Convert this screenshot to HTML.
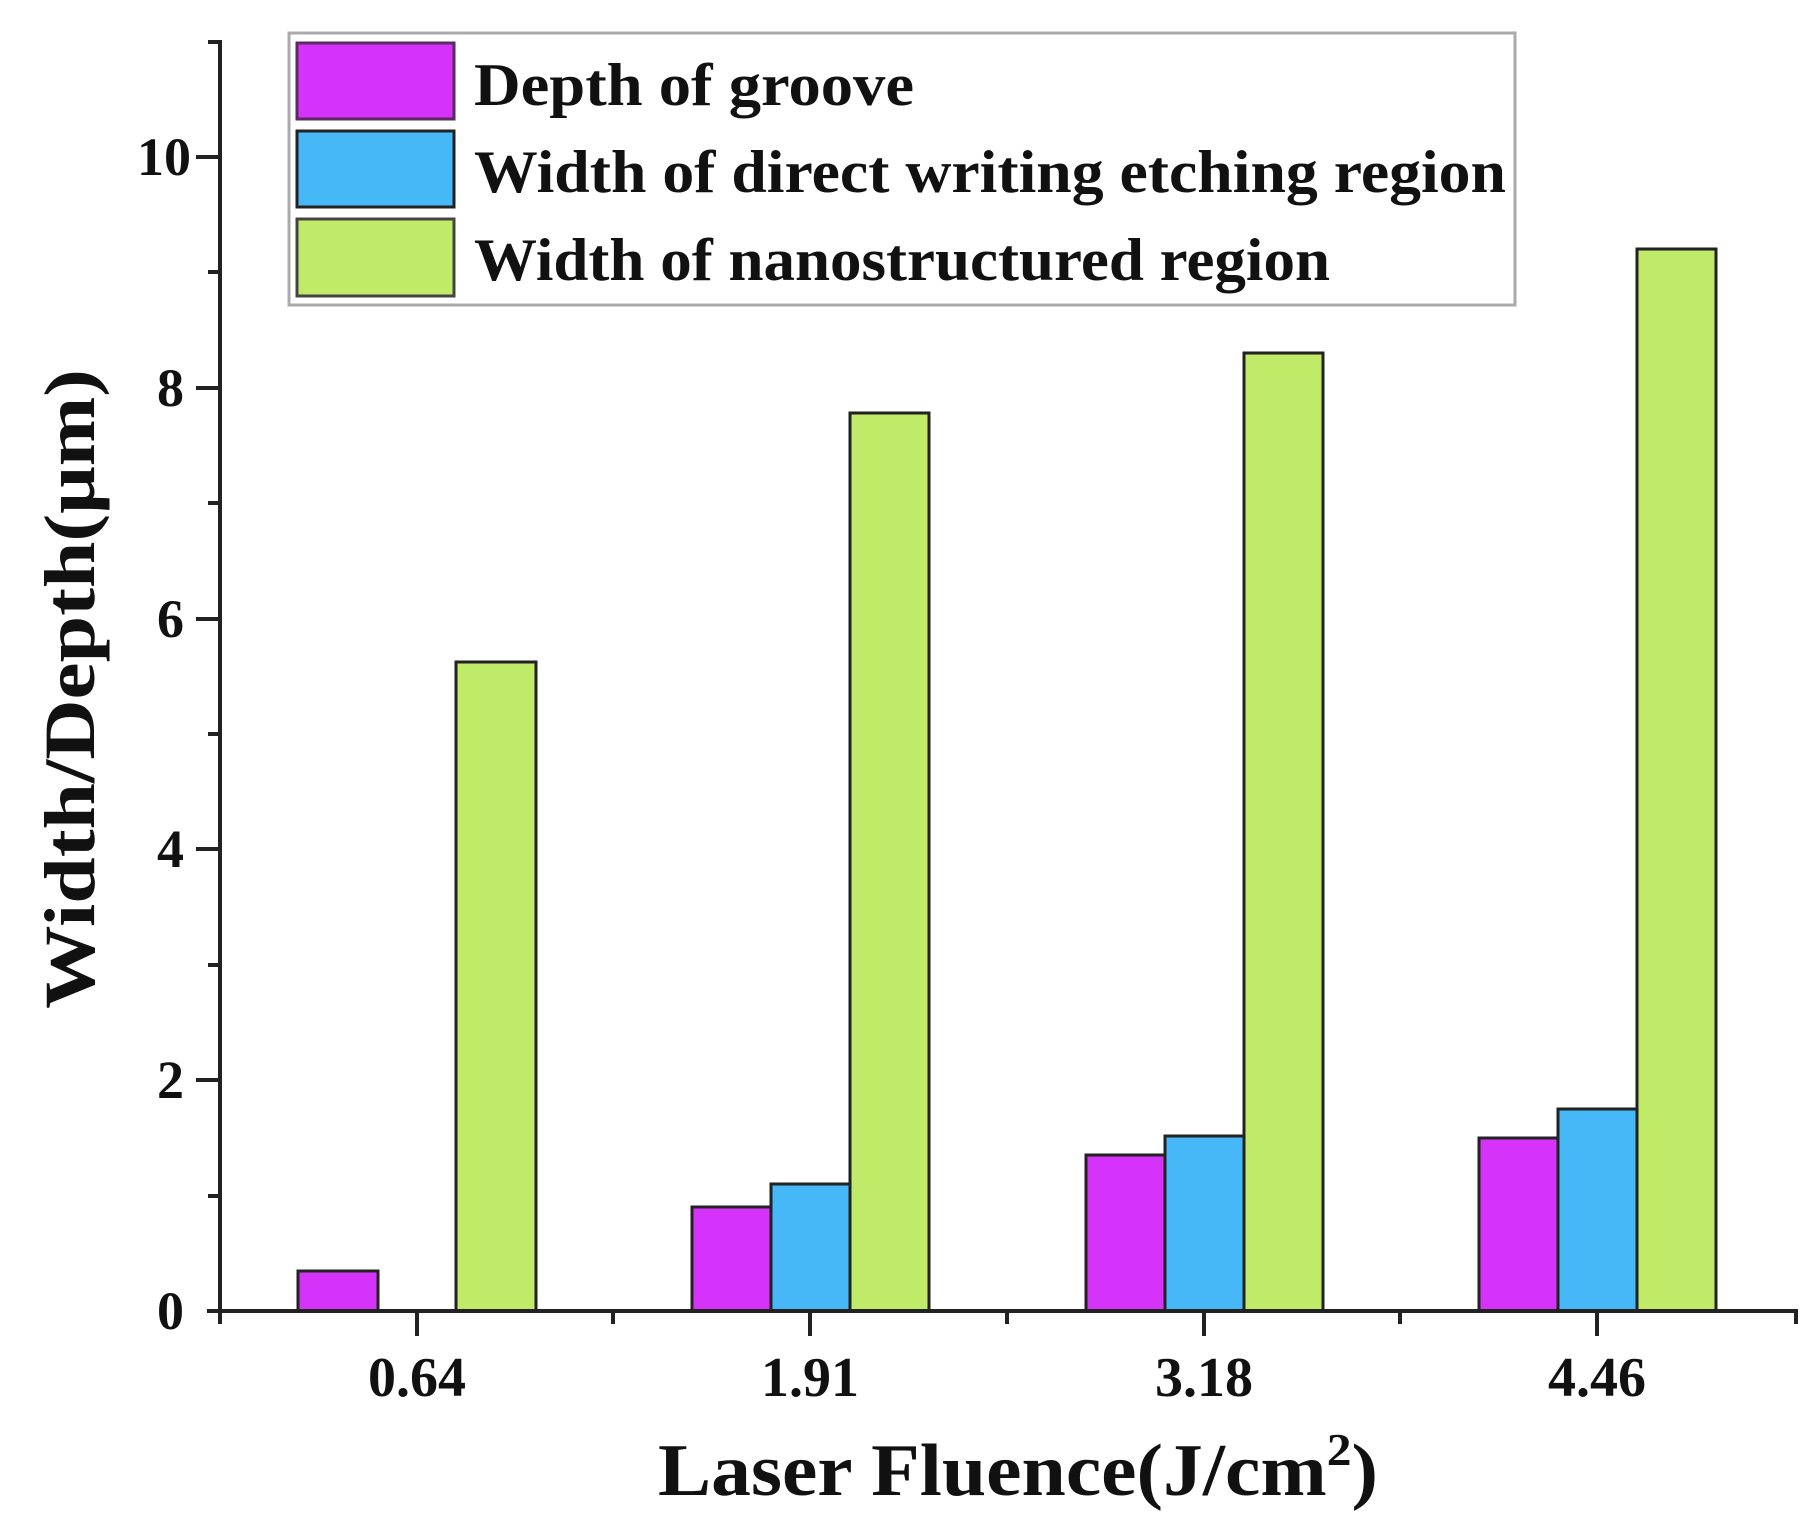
<!DOCTYPE html>
<html><head><meta charset="utf-8"><style>
html,body{margin:0;padding:0;background:#fff;}
svg{display:block;}
text{font-family:"Liberation Serif",serif;font-weight:bold;fill:#111;}
</style></head><body>
<svg width="1815" height="1535" viewBox="0 0 1815 1535" xmlns="http://www.w3.org/2000/svg">
<rect width="1815" height="1535" fill="#fff"/>
<!-- legend -->
<rect x="289" y="33" width="1226" height="272" fill="#fff" stroke="#aaa" stroke-width="3"/>
<rect x="297" y="43" width="157" height="76" fill="#d633fa" stroke="#5a2a60" stroke-width="3"/>
<rect x="297" y="131" width="157" height="76" fill="#46b8f8" stroke="#222" stroke-width="3"/>
<rect x="297" y="219" width="157" height="77" fill="#bfeb69" stroke="#444" stroke-width="3"/>
<text x="474" y="105" font-size="60" textLength="440" lengthAdjust="spacingAndGlyphs">Depth of groove</text>
<text x="474" y="192" font-size="60" textLength="1032" lengthAdjust="spacingAndGlyphs">Width of direct writing etching region</text>
<text x="474" y="280" font-size="60" textLength="856" lengthAdjust="spacingAndGlyphs">Width of nanostructured region</text>
<!-- bars: baseline 1311, 115.4 px/unit -->
<g stroke="#222" stroke-width="3">
<rect x="298" y="1271" width="80" height="40" fill="#d633fa"/>
<rect x="456" y="662" width="80" height="649" fill="#bfeb69"/>
<rect x="692" y="1207" width="79" height="104" fill="#d633fa"/>
<rect x="771" y="1184" width="79" height="127" fill="#46b8f8"/>
<rect x="850" y="413" width="79" height="898" fill="#bfeb69"/>
<rect x="1086" y="1155" width="79" height="156" fill="#d633fa"/>
<rect x="1165" y="1136" width="79" height="175" fill="#46b8f8"/>
<rect x="1244" y="353" width="79" height="958" fill="#bfeb69"/>
<rect x="1479" y="1138" width="79" height="173" fill="#d633fa"/>
<rect x="1558" y="1109" width="79" height="202" fill="#46b8f8"/>
<rect x="1637" y="249" width="79" height="1062" fill="#bfeb69"/>
</g>
<!-- axes -->
<g stroke="#222" stroke-width="4" fill="none">
<line x1="220" y1="40" x2="220" y2="1324"/>
<line x1="207" y1="1311" x2="1798" y2="1311"/>
<line x1="417" y1="1311" x2="417" y2="1336"/>
<line x1="810" y1="1311" x2="810" y2="1336"/>
<line x1="1204" y1="1311" x2="1204" y2="1336"/>
<line x1="1597" y1="1311" x2="1597" y2="1336"/>
<line x1="613" y1="1311" x2="613" y2="1324"/>
<line x1="1007" y1="1311" x2="1007" y2="1324"/>
<line x1="1400" y1="1311" x2="1400" y2="1324"/>
<line x1="1796" y1="1311" x2="1796" y2="1324"/>
<line x1="196" y1="1080" x2="220" y2="1080"/>
<line x1="196" y1="849" x2="220" y2="849"/>
<line x1="196" y1="619" x2="220" y2="619"/>
<line x1="196" y1="388" x2="220" y2="388"/>
<line x1="196" y1="157" x2="220" y2="157"/>
<line x1="208" y1="1196" x2="220" y2="1196"/>
<line x1="208" y1="965" x2="220" y2="965"/>
<line x1="208" y1="734" x2="220" y2="734"/>
<line x1="208" y1="503" x2="220" y2="503"/>
<line x1="208" y1="272" x2="220" y2="272"/>
<line x1="208" y1="42" x2="220" y2="42"/>
</g>
<g font-size="54" text-anchor="end">
<text x="184" y="1329">0</text>
<text x="184" y="1098">2</text>
<text x="184" y="867">4</text>
<text x="184" y="637">6</text>
<text x="184" y="406">8</text>
<text x="191" y="175">10</text>
</g>
<g font-size="56" text-anchor="middle">
<text x="417" y="1396">0.64</text>
<text x="810" y="1396">1.91</text>
<text x="1204" y="1396">3.18</text>
<text x="1597" y="1396">4.46</text>
</g>
<text x="1018" y="1495" font-size="74" text-anchor="middle" textLength="720" lengthAdjust="spacingAndGlyphs">Laser Fluence(J/cm<tspan font-size="46" dy="-30">2</tspan><tspan dy="30">)</tspan></text>
<text transform="translate(94,689) rotate(-90)" font-size="72" text-anchor="middle" textLength="640" lengthAdjust="spacingAndGlyphs">Width/Depth(μm)</text>
</svg>
</body></html>
